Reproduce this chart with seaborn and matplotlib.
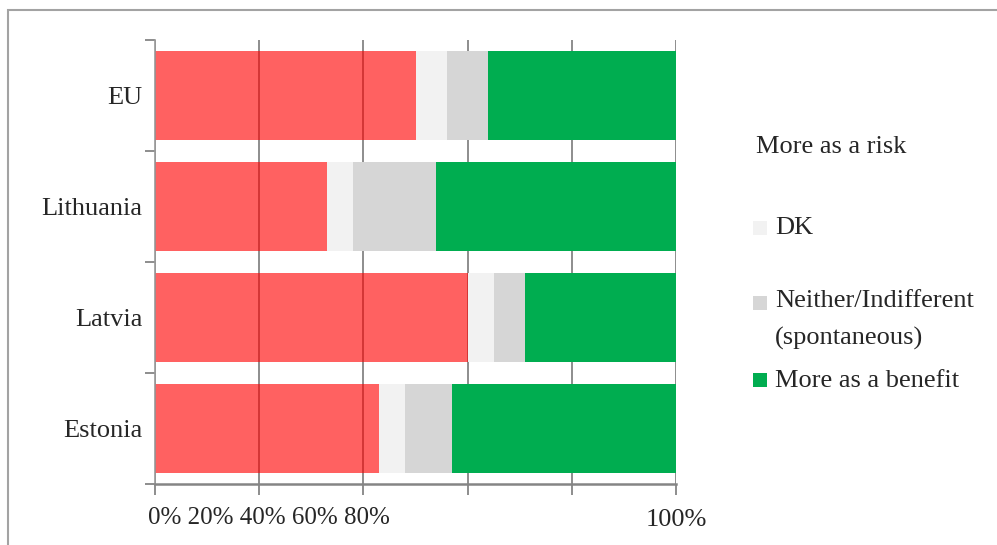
import matplotlib
matplotlib.use("Agg")
import matplotlib.pyplot as plt
from matplotlib.patches import Rectangle
import numpy as np
import pandas as pd
import seaborn as sns

# Survey shares (%), one list per answer, in country order
countries = ["EU", "Lithuania", "Latvia", "Estonia"]
more_as_risk = [50, 33, 60, 43]
dont_know = [6, 5, 5, 5]
neither = [8, 16, 6, 9]
more_as_benefit = [36, 46, 29, 43]

responses = ["More as a risk", "DK", "Neither/Indifferent (spontaneous)", "More as a benefit"]
colors = ["#FF0000", "#F2F2F2", "#D6D6D6", "#00AD50"]
x_ticks = [0, 20, 40, 60, 80, 100]

series = [more_as_risk, dont_know, neither, more_as_benefit]
long = pd.DataFrame(
    [(c, r, v) for r, vals in zip(responses, series) for c, v in zip(countries, vals)],
    columns=["country", "response", "value"],
)

sns.set_theme(style="white")
plt.rcParams["font.family"] = ["Liberation Serif", "DejaVu Serif"]

fig = plt.figure(figsize=(9.97, 5.45), dpi=100)
ax = fig.add_axes([155 / 997, 1 - 484 / 545, (676 - 155) / 997, (484 - 40) / 545])

sns.barplot(
    data=long, x="value", y="country", hue="response", order=countries,
    hue_order=responses, palette=colors, dodge=False, width=0.8,
    orient="h", legend=False, ax=ax, saturation=1, linewidth=0, edgecolor="none",
)

# stack the segments: each answer starts where the previous ones end
lefts = np.cumsum([np.zeros(len(countries))] + [np.array(s, float) for s in series[:-1]], axis=0)
for cont, left in zip(ax.containers, lefts):
    for bar, l0 in zip(cont, left):
        bar.set_x(l0)
        bar.set_zorder(2)
for bar in ax.containers[0]:
    bar.set_alpha(0.62)

ax.set_xlim(0, 100)
ax.set_ylim(len(countries) - 0.5, -0.5)

# grid lines under the bars (visible only through the translucent red)
ax.set_axisbelow(True)
ax.set_xticks(x_ticks)
ax.xaxis.grid(True, color="#858585", linewidth=1.3, zorder=0)
ax.yaxis.grid(False)
ax.set_xticklabels([""] * (len(x_ticks) - 1) + ["100%"])
ax.tick_params(axis="x", direction="out", length=8, width=1.3, color="#858585",
               labelsize=19, pad=10, bottom=True)
ax.annotate("0% 20% 40% 60% 80%", xy=(0, 0), xycoords=("data", "axes fraction"),
            xytext=(-7, -34), textcoords="offset pixels", ha="left", va="center",
            fontsize=18)

# category boundaries carry the ticks, centres carry the labels
ax.set_yticks(np.arange(-0.5, len(countries), 1.0))
ax.set_yticklabels([])
ax.set_yticks(np.arange(len(countries)), minor=True)
ax.set_yticklabels(countries, minor=True)
ax.tick_params(axis="y", which="major", direction="out", length=7, width=1.3,
               color="#858585", left=True)
ax.tick_params(axis="y", which="minor", length=0, pad=9, labelsize=19)

ax.set_xlabel("")
ax.set_ylabel("")
for side in ("top", "right"):
    ax.spines[side].set_visible(False)
ax.spines["left"].set_color("#9A9A9A")
ax.spines["left"].set_linewidth(1.2)
ax.spines["bottom"].set_color("#858585")
ax.spines["bottom"].set_linewidth(1.8)

# legend, laid out as a column of swatches and labels
W, H = 997, 545
legend_lines = [
    ("More as a risk", 147, 756),
    ("DK", 228, 775),
    ("Neither/Indifferent", 301, 775),
    ("(spontaneous)", 338, 775),
    ("More as a benefit", 381, 775),
]
for label, yc, xt in legend_lines:
    fig.text(xt / W, 1 - yc / H, label, fontsize=19, ha="left", va="center")
swatch_y = {colors[1]: 228, colors[2]: 303, colors[3]: 380}
for col, yc in swatch_y.items():
    fig.patches.append(Rectangle((753 / W, 1 - (yc + 7) / H), 14 / W, 14 / H,
                                 transform=fig.transFigure, facecolor=col,
                                 edgecolor="none", zorder=3))

# outer frame
fig.patches.append(Rectangle((8 / W, -0.05), 1.1, 1.05 - 10 / H,
                             transform=fig.transFigure, fill=False,
                             edgecolor="#A3A3A3", linewidth=1.5))

fig.savefig("out.png", dpi=100)
